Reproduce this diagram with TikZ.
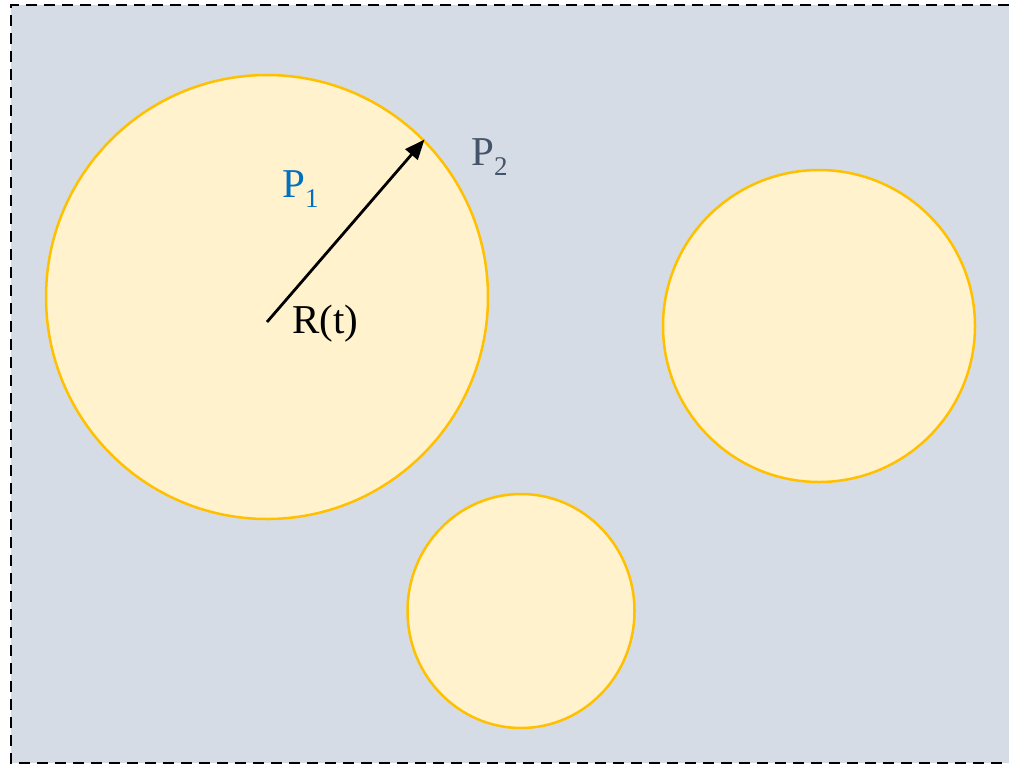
\documentclass[tikz,border=0pt]{standalone}
\usepackage{fontspec}
\setmainfont{Liberation Serif}
\usetikzlibrary{positioning,arrows.meta,shapes.geometric}
\definecolor{paneblue}{HTML}{D6DCE5}
\definecolor{blobfill}{HTML}{FFF2CC}
\definecolor{blobline}{HTML}{FFC000}
\definecolor{pblue}{HTML}{0070C0}
\definecolor{pslate}{HTML}{44546A}
\newcommand{\lowidx}[1]{\raisebox{-10pt}{\fontsize{27}{30}\selectfont #1}}

\begin{document}
\begin{tikzpicture}[x=1pt,y=-1pt,
    blob/.style={ellipse,draw=blobline,fill=blobfill,line width=2.5pt,inner sep=0pt},
    lbl/.style={inner sep=0pt,anchor=base west,font=\fontsize{41}{48}\selectfont}
    ]
\useasboundingbox (0,0) rectangle (1009,764);
\fill[paneblue] (11,5) rectangle (1009,763);
\draw[line width=2.5pt,dash pattern=on 11pt off 7pt] (1009,5) -- (11,5) -- (11,763) -- (1009,763);

\node[blob,minimum width=442pt,minimum height=444pt] (big) at (267,297) {};
\node[blob,minimum width=312pt,minimum height=312pt] (right) at (819,326) {};
\node[blob,minimum width=227pt,minimum height=234pt] (low) at (521,611) {};

\coordinate (rt) at (267,322);
\draw[line width=2.8pt,-{Triangle[length=20pt,width=16pt]}] (rt) -- (big.45);

\node[lbl,text=pblue] (p1) at (282,197) {P\lowidx{1}};
\node[lbl,text=pslate] (p2) at (471,165) {P\lowidx{2}};
\node[lbl] (rlabel) at (292,333) {R(t)};
\end{tikzpicture}
\end{document}
